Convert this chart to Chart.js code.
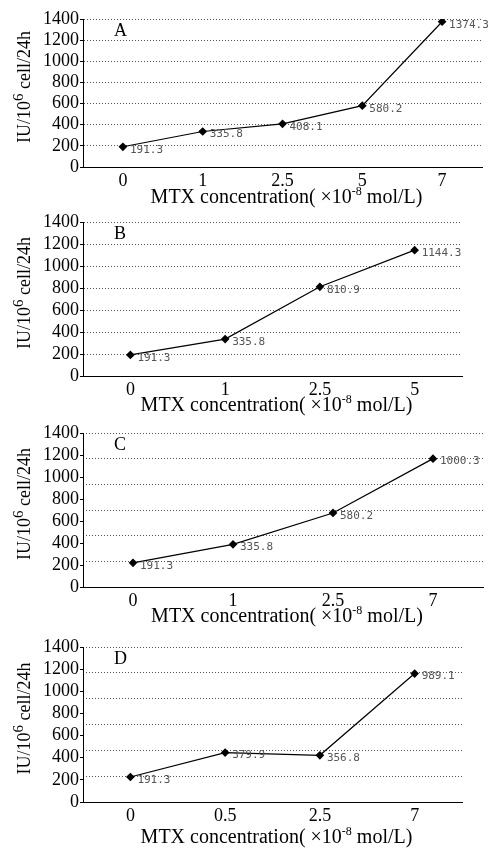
<!DOCTYPE html>
<html>
<head>
<meta charset="utf-8">
<script src="https://cdn.jsdelivr.net/npm/chart.js"></script>
<style>
    html, body { margin: 0; padding: 0; background: #fff; }
    body { width: 489px; height: 851px; position: relative; overflow: hidden; }
    canvas { position: absolute; left: 0; }
</style>
</head>
<body>
<canvas id="chartA" width="489" height="210" style="top:0px"></canvas>
<canvas id="chartB" width="489" height="210" style="top:210px"></canvas>
<canvas id="chartC" width="489" height="210" style="top:420px"></canvas>
<canvas id="chartD" width="489" height="221" style="top:630px"></canvas>
<script>
// Daten der vier Teilabbildungen
const panelLetters = ['A', 'B', 'C', 'D'];

const dosesA = ['0', '1', '2.5', '5', '7'];
const valuesA = [191.3, 335.8, 408.1, 580.2, 1374.3];
const notesA = ['191.3', '335.8', '408.1', '580.2', '1374.3'];

const dosesB = ['0', '1', '2.5', '5'];
const valuesB = [191.3, 335.8, 810.9, 1144.3];
const notesB = ['191.3', '335.8', '810.9', '1144.3'];

const dosesC = ['0', '1', '2.5', '7'];
const valuesC = [220, 388, 673, 1167];
const notesC = ['191.3', '335.8', '580.2', '1000.3'];

const dosesD = ['0', '0.5', '2.5', '7'];
const valuesD = [226, 446, 422, 1160];
const notesD = ['191.3', '379.9', '356.8', '989.1'];

const yMin = 0;
const yMax = 1400;
const yStep = 200;

const yTitle = [{ text: 'IU/10' }, { text: '6', sup: true }, { text: ' cell/24h' }];
const xTitle = [{ text: 'MTX concentration( ×10' }, { text: '-8', sup: true }, { text: ' mol/L)' }];

const SERIF = '"Liberation Serif", "Times New Roman", serif';

// Text mit Hochstellung zeichnen (zentriert)
function drawRich(ctx, parts, cx, cy, angle, size, supSize) {
    const big = size + 'px ' + SERIF, small = supSize + 'px ' + SERIF;
    let total = 0;
    parts.forEach(p => { ctx.font = p.sup ? small : big; total += ctx.measureText(p.text).width; });
    ctx.save();
    ctx.translate(cx, cy);
    ctx.rotate(angle);
    ctx.textBaseline = 'middle';
    ctx.textAlign = 'left';
    ctx.fillStyle = '#000';
    let x = -total / 2;
    parts.forEach(p => {
        ctx.font = p.sup ? small : big;
        ctx.fillText(p.text, x, p.sup ? -6 : 0);
        x += ctx.measureText(p.text).width;
    });
    ctx.restore();
}

const annotate = {
    id: 'annotate',
    afterDraw(chart, args, opts) {
        const ctx = chart.ctx, a = chart.chartArea;
        ctx.save();
        const meta = chart.getDatasetMeta(0);
        ctx.fillStyle = '#555';
        ctx.font = '11px "DejaVu Sans Mono", monospace';
        ctx.textBaseline = 'middle';
        ctx.textAlign = 'left';
        meta.data.forEach((pt, i) => ctx.fillText(opts.notes[i], pt.x + 7, pt.y + 3));
        ctx.fillStyle = '#000';
        ctx.font = '18px ' + SERIF;
        ctx.fillText(opts.letter, a.left + 31, a.top + 12);
        ctx.restore();
        drawRich(ctx, xTitle, (a.left + a.right) / 2 + 4, a.bottom + opts.titleGap, 0, 20, 12);
        drawRich(ctx, yTitle, 25, (a.top + a.bottom) / 2 - 6, -Math.PI / 2, 18, 15);
    }
};

function makePanel(id, letter, doses, values, notes, layout) {
    const scales = {
        x: {
            type: 'category',
            offset: true,
            grid: { display: false, drawTicks: false },
            border: { display: true, color: '#000', width: 1 },
            ticks: { color: '#000', font: { family: SERIF, size: 18 }, padding: 3, maxRotation: 0, autoSkip: false },
            afterFit: s => { s.height = 40; }
        },
        y: {
            min: yMin,
            max: yMax,
            ticks: {
                stepSize: yStep,
                autoSkip: false,
                color: '#000',
                font: { family: SERIF, size: 18 },
                padding: 1,
                callback: v => String(v)
            },
            grid: {
                color: '#555',
                tickLength: 3,
                tickColor: '#000',
                tickBorderDash: [],
                drawOnChartArea: !layout.oddGrid
            },
            border: { display: true, color: '#000', width: 1, dash: [1, 2] },
            afterFit: s => { s.width = 50; }
        }
    };
    if (layout.oddGrid) {
        scales.g = {
            type: 'linear',
            position: 'right',
            min: 0,
            max: layout.oddGrid,
            ticks: { stepSize: 1, display: false },
            grid: { color: '#555', drawTicks: false },
            border: { display: false, dash: [1, 2] },
            afterFit: s => { s.width = 0; }
        };
    }
    return new Chart(document.getElementById(id), {
        type: 'line',
        data: {
            labels: doses,
            datasets: [{
                data: values,
                borderColor: '#000',
                borderWidth: 1.2,
                pointStyle: 'rectRot',
                pointRadius: 3.5,
                pointBackgroundColor: '#000',
                pointBorderColor: '#000',
                tension: 0
            }]
        },
        options: {
            responsive: false,
            animation: false,
            devicePixelRatio: 1,
            layout: { padding: layout.padding },
            plugins: {
                legend: { display: false },
                tooltip: { enabled: false },
                annotate: { notes: notes, letter: letter, titleGap: layout.titleGap }
            },
            scales: scales
        },
        plugins: [annotate]
    });
}

makePanel('chartA', panelLetters[0], dosesA, valuesA, notesA,
    { padding: { left: 33, top: 19, right: 7, bottom: 3 }, titleGap: 31 });
makePanel('chartB', panelLetters[1], dosesB, valuesB, notesB,
    { padding: { left: 33, top: 12, right: 27, bottom: 4 }, titleGap: 30 });
makePanel('chartC', panelLetters[2], dosesC, valuesC, notesC,
    { padding: { left: 33, top: 13, right: 6, bottom: 3 }, titleGap: 30, oddGrid: 6 });
makePanel('chartD', panelLetters[3], dosesD, valuesD, notesD,
    { padding: { left: 33, top: 17, right: 27, bottom: 9 }, titleGap: 36, oddGrid: 6 });
</script>
</body>
</html>
